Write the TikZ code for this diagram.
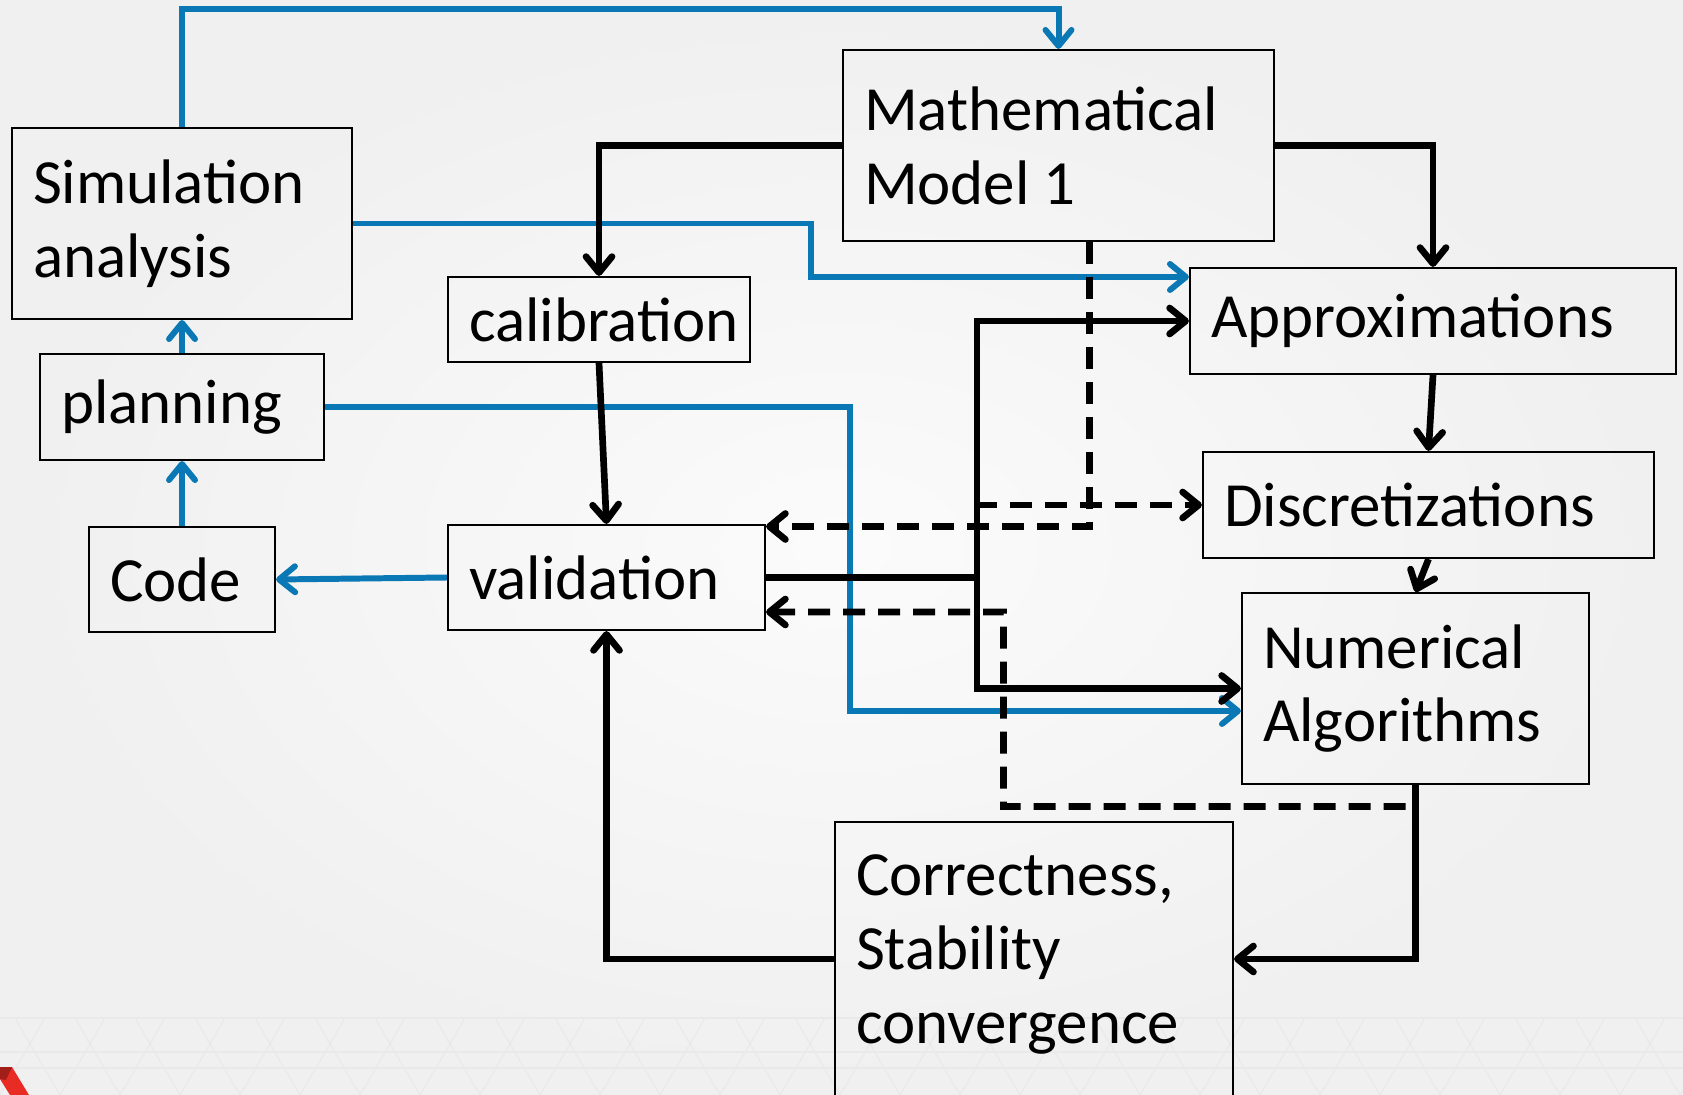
\documentclass[tikz,border=0pt]{standalone}
\usepackage{fontspec}
\setmainfont{Carlito}
\usetikzlibrary{arrows.meta}
\definecolor{lineblue}{RGB}{10,120,180}
\definecolor{logored}{RGB}{232,44,36}
\begin{document}
\begin{tikzpicture}[
  >={Straight Barb[length=0.16cm,width=0.26cm,round]},
  box/.style={draw, line width=0.6pt, align=left, inner xsep=0.21cm, font=\fontsize{17.9}{21}\selectfont},
  blueline/.style={->, draw=lineblue, line width=1.7pt},
  blackline/.style={->, line width=1.9pt},
  dashline/.style={->, line width=1.9pt, dash pattern=on 0.22cm off 0.13cm}]
\useasboundingbox (0,0) rectangle (16.83,-10.95);
\shade[inner color=gray!3, outer color=gray!12] (0,0) rectangle (16.83,-10.95);
% template pattern at the bottom
\foreach \k in {0,...,28} {
  \draw[gray!17, line width=0.3pt] (\k*0.6,-10.95) -- ++(0.45,0.77);
  \draw[gray!17, line width=0.3pt] (\k*0.6+0.6,-10.95) -- ++(-0.45,0.77);
}
\foreach \yy in {10.18,10.52,10.68}
  \draw[gray!17, line width=0.3pt] (0,-\yy) -- (16.83,-\yy);
\fill[logored] (0,-10.67) -- (0.12,-10.67) -- (0.29,-10.95) -- (0.10,-10.95) -- (0,-10.79) -- cycle;
\fill[logored!70!black] (0,-10.67) -- (0.12,-10.67) -- (0.06,-10.80) -- (0,-10.79) -- cycle;

% boxes
\node[box, text width=2.98cm, minimum height=1.91cm] (sim) at (1.82,-2.235) {Simulation\\analysis};
\node[box, text width=2.42cm, minimum height=1.06cm] (plan) at (1.82,-4.07) {planning};
\node[box, text width=1.44cm, minimum height=1.05cm] (code) at (1.82,-5.795) {Code};
\node[box, text width=2.60cm, minimum height=0.85cm] (calib) at (5.99,-3.195) {calibration};
\node[box, text width=2.75cm, minimum height=1.05cm] (valid) at (6.065,-5.775) {validation};
\node[box, text width=3.89cm, minimum height=1.91cm] (math) at (10.585,-1.455) {Mathematical\\Model\kern-0.07cm{} 1};
\node[box, text width=4.44cm, minimum height=1.06cm] (approx) at (14.33,-3.21) {Approximations};
\node[box, text width=4.09cm, minimum height=1.06cm] (disc) at (14.285,-5.05) {Discretizations};
\node[box, text width=3.05cm, minimum height=1.91cm] (num) at (14.155,-6.885) {Numerical\\Algorithms};
\node[box, text width=3.56cm, inner ysep=0.33cm, anchor=north west] (corr) at (8.34,-8.21)
  {Correctness,\\Stability\\convergence\rule[-0.7cm]{0pt}{0pt}};

% blue links
\coordinate (top) at (0,-0.09);
\draw[blueline] (sim.north) -- (sim.north |- top) -| (math.north);
\draw[blueline] (sim.east) -- ++(4.58,0) |- ([yshift=0.44cm]approx.west);
\draw[blueline] (code.north) -- (plan.south);
\draw[blueline] (plan.north) -- (sim.south);
\draw[blueline] (valid.west) -- (code.east);
\draw[blueline] (plan.east) -- ++(5.25,0) |- ([yshift=-0.225cm]num.west);

% black links
\draw[blackline] (math.west) -| (calib.north);
\draw[blackline] (math.east) -| (approx.north);
\draw[blackline] (calib.south) -- (valid.north);
\draw[blackline] (approx.south) -- (disc.north);
\draw[blackline] (disc.south) -- (num.north);
\coordinate (bus) at (9.77,-5.775);
\draw[dashline] (bus) |- (disc.west);
\draw[line width=1.9pt] (valid.east) -- (bus);
\draw[blackline] (bus) |- (approx.west);
\draw[blackline] (bus) |- (num.west);
\draw[blackline] (num.south) |- ([yshift=-1.38cm]corr.north east);
\draw[blackline] ([yshift=-1.38cm]corr.north west) -| (valid.south);

% dashed links
\draw[dashline] ([xshift=0.31cm]math.south) |- ([yshift=0.51cm]valid.east);
\draw[dashline] ([xshift=-0.1cm,yshift=-0.215cm]num.south) -| (10.035,-6.12) -- ([yshift=-0.345cm]valid.east);
\end{tikzpicture}
\end{document}
